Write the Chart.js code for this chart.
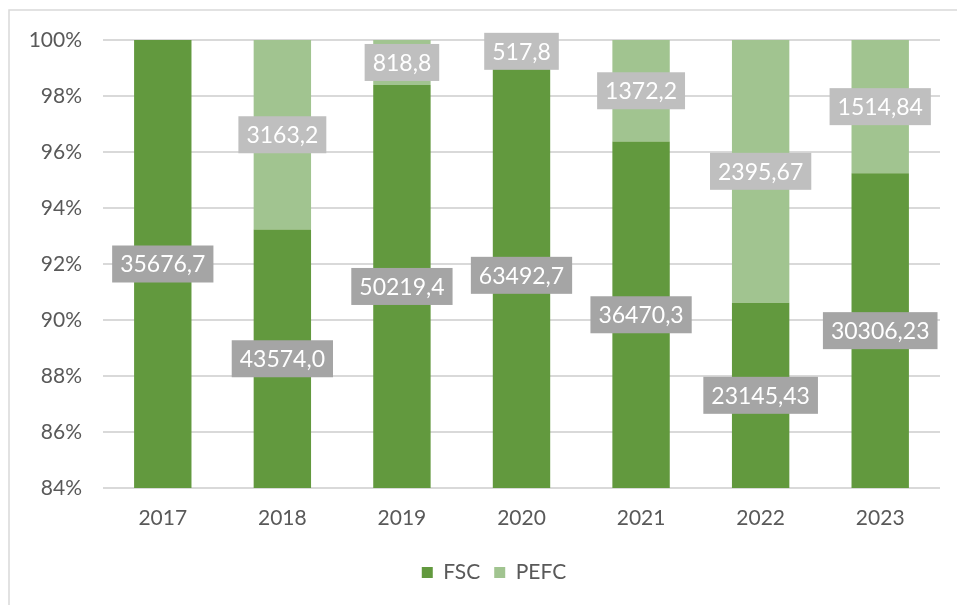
<!DOCTYPE html>
<html>
<head>
<meta charset="utf-8">
<script src="https://cdn.jsdelivr.net/npm/chart.js"></script>
<style>
  html, body { margin: 0; padding: 0; background: #fff; }
  #wrap { width: 957px; height: 605px; }
</style>
</head>
<body>
<div id="wrap"><canvas id="chart" width="957" height="605"></canvas></div>
<script>
// data
const years = ['2017', '2018', '2019', '2020', '2021', '2022', '2023'];
const fscValues = [35676.7, 43574.0, 50219.4, 63492.7, 36470.3, 23145.43, 30306.23];
const pefcValues = [0, 3163.2, 818.8, 517.8, 1372.2, 2395.67, 1514.84];
const decimals = [1, 1, 1, 1, 1, 2, 2];
const yTicks = [84, 86, 88, 90, 92, 94, 96, 98, 100];

// share of each year's total, in %
const totals = fscValues.map((v, i) => v + pefcValues[i]);
const fscPct = fscValues.map((v, i) => v / totals[i] * 100);
const pefcPct = pefcValues.map((v, i) => v / totals[i] * 100);

const FONT = 'Lato, "Open Sans", sans-serif';

const frame = {
  id: 'frame',
  beforeDraw(chart) {
    const ctx = chart.ctx;
    ctx.save();
    ctx.fillStyle = '#fff';
    ctx.fillRect(0, 0, chart.width, chart.height);
    ctx.strokeStyle = '#d9d9d9';
    ctx.lineWidth = 1.5;
    ctx.beginPath();
    ctx.moveTo(9, chart.height);
    ctx.lineTo(9, 10);
    ctx.lineTo(chart.width, 10);
    ctx.stroke();
    ctx.restore();
  }
};

// the legend sits a bit right of centre in the reference
const legendShift = {
  id: 'legendShift',
  afterLayout(chart) {
    if (chart.legend) chart.legend.left += 48;
  }
};

// gray value boxes, centred on the visible part of each segment
const valueBoxes = {
  id: 'valueBoxes',
  afterDatasetsDraw(chart) {
    const ctx = chart.ctx;
    const area = chart.chartArea;
    ctx.save();
    ctx.font = '23px ' + FONT;
    ctx.textAlign = 'center';
    ctx.textBaseline = 'middle';
    chart.data.datasets.forEach((ds, di) => {
      const meta = chart.getDatasetMeta(di);
      meta.data.forEach((bar, i) => {
        const raw = ds.rawValues[i];
        if (!raw) return;
        const top = Math.max(Math.min(bar.y, bar.base), area.top);
        const bottom = Math.min(Math.max(bar.y, bar.base), area.bottom);
        const cy = (top + bottom) / 2;
        const txt = raw.toFixed(decimals[i]).replace('.', ',');
        const w = ctx.measureText(txt).width + 16;
        const h = 37;
        ctx.fillStyle = ds.boxColor;
        ctx.fillRect(bar.x - w / 2, cy - h / 2, w, h);
        ctx.fillStyle = '#fff';
        ctx.fillText(txt, bar.x, cy + 1);
      });
    });
    ctx.restore();
  }
};

new Chart(document.getElementById('chart'), {
  type: 'bar',
  data: {
    labels: years,
    datasets: [
      { label: 'FSC', data: fscPct, rawValues: fscValues, backgroundColor: '#62993e', boxColor: '#a5a5a5', clip: 0 },
      { label: 'PEFC', data: pefcPct, rawValues: pefcValues, backgroundColor: '#a1c490', boxColor: '#bfbfbf', clip: 0 }
    ]
  },
  options: {
    responsive: false,
    animation: false,
    events: [],
    barPercentage: 0.48,
    categoryPercentage: 1,
    layout: { padding: { top: 40, right: 17, left: 0, bottom: 12 } },
    plugins: {
      tooltip: { enabled: false },
      legend: {
        position: 'bottom',
        labels: {
          boxWidth: 11, boxHeight: 11, padding: 14,
          color: '#595959', font: { family: FONT, size: 21 }
        }
      }
    },
    scales: {
      x: {
        stacked: true,
        grid: { display: false, drawTicks: false },
        border: { display: false },
        ticks: { color: '#595959', font: { family: FONT, size: 21 }, padding: 18 },
        afterFit(s) { s.height = 60; }
      },
      y: {
        stacked: true,
        min: 84, max: 100,
        afterBuildTicks(s) { s.ticks = yTicks.map(v => ({ value: v })); },
        grid: { color: '#d9d9d9', lineWidth: 2, drawTicks: false },
        border: { display: false },
        ticks: {
          color: '#595959', font: { family: FONT, size: 21 }, padding: 21,
          callback: v => v + '%'
        },
        afterFit(s) { s.width = 103; }
      }
    }
  },
  plugins: [frame, legendShift, valueBoxes]
});
</script>
</body>
</html>
